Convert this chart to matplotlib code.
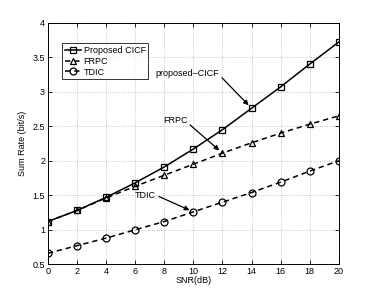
import matplotlib
matplotlib.use("Agg")
import matplotlib.pyplot as plt
from matplotlib.ticker import FuncFormatter

plt.rcParams['font.family'] = ['Liberation Sans', 'DejaVu Sans']

snr = [0, 2, 4, 6, 8, 10, 12, 14, 16, 18, 20]
proposed = [1.12, 1.28, 1.47, 1.68, 1.91, 2.17, 2.45, 2.76, 3.07, 3.40, 3.72]
frpc = [1.12, 1.28, 1.46, 1.63, 1.79, 1.95, 2.11, 2.26, 2.40, 2.53, 2.65]
tdic = [0.66, 0.77, 0.88, 1.00, 1.12, 1.26, 1.40, 1.54, 1.69, 1.85, 2.00]
labels = ['Proposed CICF', 'FRPC', 'TDIC']

fig = plt.figure(figsize=(3.74, 2.98), dpi=100)
ax = fig.add_axes([0.128, 0.113, 0.778, 0.811])

dash = (0, (3.5, 2.5))
ax.plot(snr, proposed, '-', color='black', lw=1.1, marker='s', ms=4.3,
        mfc='none', mec='black', mew=0.9, label=labels[0])
ax.plot(snr, frpc, linestyle=dash, color='black', lw=1.1, marker='^', ms=5,
        mfc='none', mec='black', mew=0.9, label=labels[1])
ax.plot(snr, tdic, linestyle=dash, color='black', lw=1.1, marker='o', ms=5,
        mfc='none', mec='black', mew=0.9, label=labels[2])

ax.set_xlim(0, 20)
ax.set_ylim(0.5, 4)
ax.set_xticks(range(0, 21, 2))
ax.set_yticks([0.5, 1, 1.5, 2, 2.5, 3, 3.5, 4])
ax.yaxis.set_major_formatter(FuncFormatter(lambda v, p: ('%g' % v)))
ax.tick_params(direction='in', length=3, width=0.6, labelsize=6.5, pad=2,
               top=True, right=True)
ax.grid(True, linestyle=':', color='#b5b5b5', lw=0.6)
for s in ax.spines.values():
    s.set_linewidth(0.7)

ax.set_xlabel('SNR(dB)', fontsize=6.5, labelpad=0)
ax.set_ylabel('Sum Rate (bit/s)', fontsize=6.5, labelpad=4)

leg = ax.legend(loc='upper left', bbox_to_anchor=(0.048, 0.915), fontsize=6.5,
                frameon=True, fancybox=False, edgecolor='black',
                handlelength=1.8, handletextpad=0.3, borderpad=0.3,
                labelspacing=0.2, borderaxespad=0)
leg.get_frame().set_linewidth(0.7)

arrow = dict(arrowstyle='-|>', color='black', lw=0.9, mutation_scale=7,
             shrinkA=0, shrinkB=3)
ax.annotate('proposed\u2013CICF', xy=(14, 2.76), xytext=(7.4, 3.27),
            fontsize=6.5, ha='left', va='center', arrowprops=dict(arrow, relpos=(1, 0.3)))
ax.annotate('FRPC', xy=(12, 2.11), xytext=(7.9, 2.58),
            fontsize=6.5, ha='left', va='center', arrowprops=dict(arrow, relpos=(1, 0.3)))
ax.annotate('TDIC', xy=(10, 1.26), xytext=(6.0, 1.50),
            fontsize=6.5, ha='left', va='center', arrowprops=dict(arrow, relpos=(1, 0.5)))

fig.savefig('out.png', dpi=100)
